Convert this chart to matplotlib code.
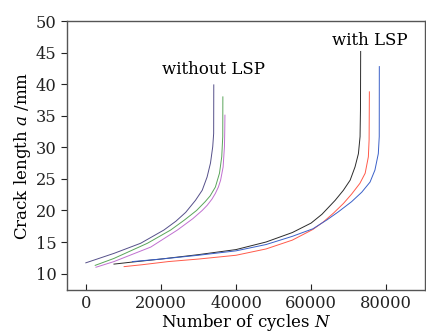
import numpy as np
import matplotlib.pyplot as plt

plt.rcParams['font.family'] = 'DejaVu Serif'
plt.rcParams['mathtext.fontset'] = 'dejavuserif'

# without LSP
n_wo1 = [0, 7500, 14600, 20800, 24000, 26600, 29200, 31000, 32300, 33200, 33800, 34050, 34080]
a_wo1 = [11.7, 13.2, 14.8, 16.9, 18.3, 19.7, 21.6, 23.2, 25.3, 27.5, 30.1, 32.2, 39.9]
n_wo2 = [2500, 7500, 16400, 22600, 26300, 29500, 31800, 33100, 34500, 35600, 36200, 36470, 36500]
a_wo2 = [11.3, 12.4, 14.8, 16.9, 18.5, 20.0, 21.4, 22.3, 23.7, 25.9, 28.5, 31.7, 38.0]
n_wo3 = [2700, 7500, 17300, 24400, 28500, 31000, 32300, 33600, 34500, 35300, 35900, 36570, 36920, 37000, 37050]
a_wo3 = [11.0, 11.9, 14.2, 16.9, 18.7, 20.0, 20.8, 21.8, 22.7, 23.7, 24.8, 26.9, 30.1, 32.5, 35.1]

# with LSP
n_w1 = [7500, 12000, 20000, 30000, 40000, 48000, 55000, 60000, 62900, 66400, 68600, 70400, 71700, 72600, 73040, 73150, 73200]
a_w1 = [11.5, 11.8, 12.3, 13.0, 13.8, 15.0, 16.5, 18.0, 19.4, 21.6, 23.2, 24.8, 26.9, 29.0, 31.7, 36.0, 45.2]
n_w2 = [10200, 15000, 22000, 30000, 40000, 48000, 55000, 60500, 63300, 66000, 68600, 70800, 73000, 74400, 75250, 75450, 75520]
a_w2 = [11.1, 11.4, 11.9, 12.3, 12.9, 13.9, 15.3, 17.0, 18.2, 19.6, 21.1, 22.6, 24.3, 25.9, 28.5, 31.2, 38.8]
n_w3 = [12400, 20000, 30000, 40000, 48000, 55000, 60500, 64200, 67300, 70800, 73500, 75700, 77000, 77900, 78150, 78170]
a_w3 = [11.9, 12.3, 12.9, 13.6, 14.6, 15.9, 17.1, 18.5, 19.8, 21.4, 22.9, 24.5, 26.4, 29.0, 31.7, 42.8]

fig = plt.figure(figsize=(4.27, 3.36), dpi=100)
ax = fig.add_axes([0.157, 0.137, 0.838, 0.8])

lw = 0.7
ax.plot(n_wo1, a_wo1, color='#55508a', lw=lw)
ax.plot(n_wo2, a_wo2, color='#5aa55a', lw=lw)
ax.plot(n_wo3, a_wo3, color='#c070d0', lw=lw)
ax.plot(n_w1, a_w1, color='#2b2b2b', lw=lw)
ax.plot(n_w2, a_w2, color='#ff5a4a', lw=lw)
ax.plot(n_w3, a_w3, color='#3a60c8', lw=lw)

ax.text(34000, 42.3, 'without LSP', fontsize=12, ha='center', va='center')
ax.text(75700, 47.0, 'with LSP', fontsize=12, ha='center', va='center')

ax.set_xlim(-5000, 90300)
ax.set_ylim(7.4, 50)
ax.set_xticks([0, 20000, 40000, 60000, 80000])
ax.set_yticks([10, 15, 20, 25, 30, 35, 40, 45, 50])
ax.tick_params(axis='x', direction='in', length=4, labelsize=11.7, colors='#222222')
ax.tick_params(axis='y', direction='out', length=4, labelsize=11.7, colors='#222222')
for s in ax.spines.values():
    s.set_color('#555555')
    s.set_linewidth(1.0)

ax.set_xlabel('Number of cycles $N$', fontsize=12, labelpad=0)
ax.set_ylabel('Crack length $a$ /mm', fontsize=12, labelpad=2)

fig.savefig('out.png', dpi=100)
